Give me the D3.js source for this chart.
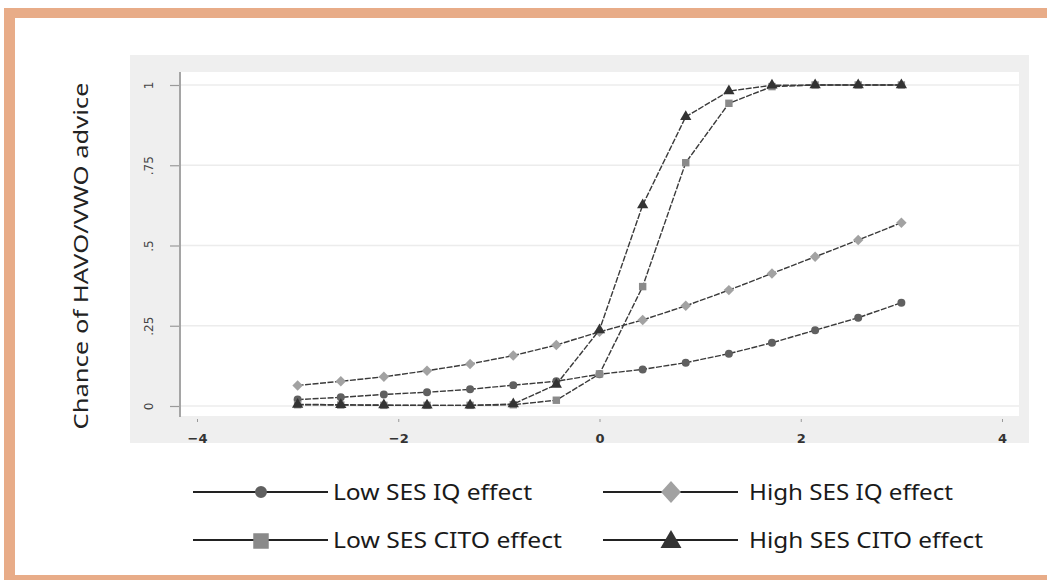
<!DOCTYPE html>
<html>
<head>
<meta charset="utf-8">
<script src="https://cdn.jsdelivr.net/npm/d3@7"></script>
<style>
  body { margin: 0; background: #fff; }
  svg { display: block; }
</style>
</head>
<body>
<svg id="chart" width="1047" height="580"></svg>
<script>
// data
var xValues = [-3, -2.571, -2.143, -1.714, -1.286, -0.857, -0.429, 0, 0.429, 0.857, 1.286, 1.714, 2.143, 2.571, 3];
var lowIQ    = [0.020, 0.027, 0.036, 0.043, 0.052, 0.065, 0.077, 0.099, 0.114, 0.135, 0.163, 0.197, 0.236, 0.275, 0.322];
var highIQ   = [0.064, 0.077, 0.091, 0.110, 0.131, 0.157, 0.190, 0.231, 0.268, 0.312, 0.361, 0.413, 0.465, 0.517, 0.571];
var lowCITO  = [0.004, 0.003, 0.002, 0.002, 0.002, 0.004, 0.018, 0.100, 0.372, 0.758, 0.943, 0.995, 1.000, 1.000, 1.000];
var highCITO = [0.005, 0.004, 0.003, 0.002, 0.002, 0.006, 0.067, 0.237, 0.626, 0.901, 0.981, 0.999, 1.000, 1.000, 1.000];
var xTicks = [-4, -2, 0, 2, 4];
var yTicks = [0, 0.25, 0.5, 0.75, 1];
var yTickLabels = ['0', '.25', '.5', '.75', '1'];
var seriesNames = ['Low SES IQ effect', 'High SES IQ effect', 'Low SES CITO effect', 'High SES CITO effect'];

var svg = d3.select('#chart');

// frame
var orange = '#e8ac88';
svg.append('rect').attr('x', 4).attr('y', 8).attr('width', 1043).attr('height', 10).attr('fill', orange);
svg.append('rect').attr('x', 4).attr('y', 8).attr('width', 11).attr('height', 572).attr('fill', orange);
svg.append('rect').attr('x', 4).attr('y', 575).attr('width', 1043).attr('height', 5).attr('fill', orange);

// graph region
svg.append('rect').attr('x', 130).attr('y', 55).attr('width', 899).attr('height', 388).attr('fill', '#efefef');
svg.append('rect').attr('x', 180).attr('y', 72).attr('width', 839).attr('height', 344).attr('fill', '#ffffff');

var x = d3.scaleLinear().domain([-4, 4]).range([197, 1002]);
var y = d3.scaleLinear().domain([0, 1]).range([406, 85]);

// gridlines
svg.append('g').selectAll('line').data(yTicks).enter().append('line')
    .attr('x1', 181).attr('x2', 1019)
    .attr('y1', function (d) { return y(d); })
    .attr('y2', function (d) { return y(d); })
    .attr('stroke', '#ececec').attr('stroke-width', 1.6);

// y axis
var yAxis = d3.axisLeft(y).tickValues(yTicks).tickSize(10).tickPadding(0)
    .tickFormat(function (d, i) { return yTickLabels[i]; });
var gy = svg.append('g').attr('transform', 'translate(180,0)').call(yAxis);
gy.select('.domain').remove();
gy.selectAll('.tick line').attr('stroke', '#9a9a9a').attr('stroke-width', 1.2);
gy.selectAll('.tick text')
    .attr('transform', 'translate(-31,0) rotate(-90)')
    .attr('x', 0).attr('dy', '0.35em').attr('text-anchor', 'middle')
    .attr('fill', '#444').style('font-family', 'DejaVu Sans, sans-serif').style('font-size', '12px');
svg.append('line').attr('x1', 180).attr('x2', 180).attr('y1', 72).attr('y2', 417)
    .attr('stroke', '#a5a5a5').attr('stroke-width', 2);

// x axis
var xAxis = d3.axisBottom(x).tickValues(xTicks).tickSize(3).tickPadding(12).tickFormat(d3.format('d'));
var gx = svg.append('g').attr('transform', 'translate(0,419)').call(xAxis);
gx.select('.domain').remove();
gx.selectAll('.tick line').attr('stroke', '#999');
gx.selectAll('.tick text').attr('fill', '#333')
    .style('font-family', 'DejaVu Sans, sans-serif').style('font-size', '13px').style('font-weight', 'bold');

// y title
svg.append('text')
    .attr('transform', 'translate(88,256) rotate(-90)')
    .attr('text-anchor', 'middle')
    .attr('fill', '#222')
    .style('font-family', 'Noto Sans, sans-serif').style('font-size', '19px')
    .attr('textLength', 347).attr('lengthAdjust', 'spacingAndGlyphs')
    .text('Chance of HAVO/VWO advice');

// symbols (diamonds drawn as rotated squares)
var sym = [
  { data: lowIQ,    type: d3.symbolCircle,   size: 50, fill: '#606060', lsize: 113, rot: 0 },
  { data: highIQ,   type: d3.symbolSquare,   size: 55, fill: '#a2a2a2', lsize: 220, rot: 45 },
  { data: lowCITO,  type: d3.symbolSquare,   size: 55, fill: '#8a8a8a', lsize: 240, rot: 0 },
  { data: highCITO, type: d3.symbolTriangle, size: 55, fill: '#333333', lsize: 190, rot: 0 }
];
var legendWidths = [199, 204, 229, 234];

var line = d3.line()
    .x(function (d) { return x(d[0]); })
    .y(function (d) { return y(d[1]); });

sym.forEach(function (s) {
    var pts = xValues.map(function (v, i) { return [v, s.data[i]]; });
    svg.append('path').datum(pts)
        .attr('d', line)
        .attr('fill', 'none')
        .attr('stroke', '#3a3a3a')
        .attr('stroke-width', 1.4)
        .attr('stroke-dasharray', '6,1.5');
    svg.append('g').selectAll('path').data(pts).enter().append('path')
        .attr('d', d3.symbol().type(s.type).size(s.size))
        .attr('transform', function (d) { return 'translate(' + x(d[0]) + ',' + y(d[1]) + ') rotate(' + s.rot + ')'; })
        .attr('fill', s.fill);
});

// legend
var legX = [193, 603];
var legY = [492, 540];
var lg = svg.append('g');
sym.forEach(function (s, i) {
    var lx = legX[i % 2], ly = legY[Math.floor(i / 2)];
    lg.append('line').attr('x1', lx).attr('x2', lx + 135).attr('y1', ly).attr('y2', ly)
        .attr('stroke', '#222').attr('stroke-width', 2.2);
    var sy = s.type === d3.symbolTriangle ? ly + 2 : (i === 2 ? ly + 1 : ly);
    lg.append('path')
        .attr('d', d3.symbol().type(s.type).size(s.lsize))
        .attr('transform', 'translate(' + (lx + 68) + ',' + sy + ')' + (s.rot ? ' scale(0.95,1.05) rotate(45)' : ''))
        .attr('fill', s.fill);
    lg.append('text')
        .attr('x', lx + (i % 2 ? 146 : 140)).attr('y', ly).attr('dy', '0.36em')
        .attr('fill', '#1a1a1a')
        .style('font-family', 'Noto Sans, sans-serif').style('font-size', '22px')
        .attr('textLength', legendWidths[i]).attr('lengthAdjust', 'spacingAndGlyphs')
        .text(seriesNames[i]);
});
</script>
</body>
</html>
